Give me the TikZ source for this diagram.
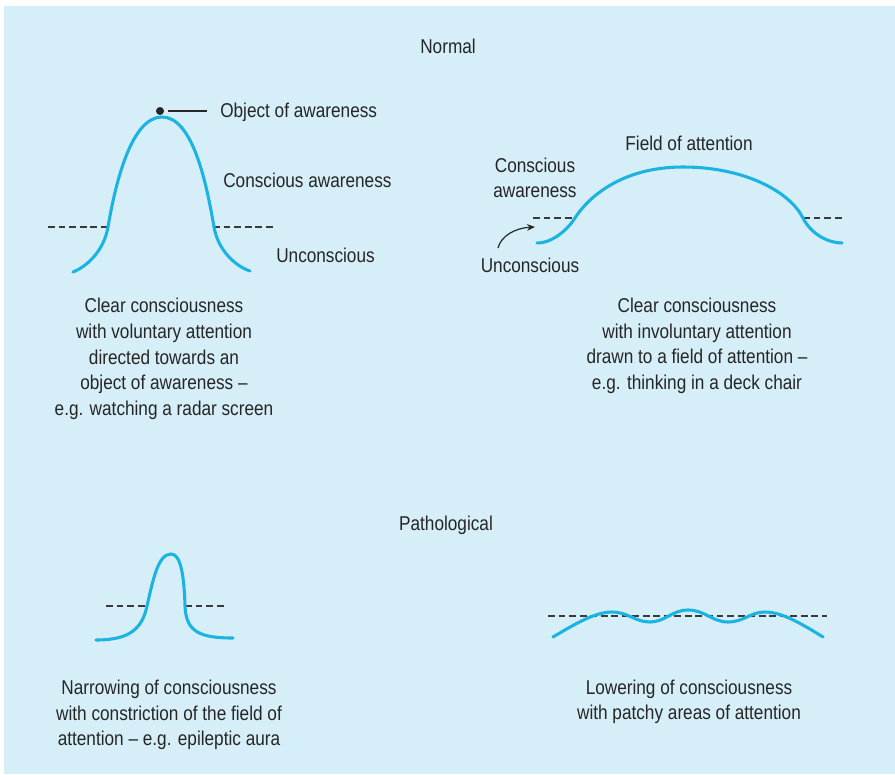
\documentclass[tikz,border=0pt]{standalone}
\usepackage{fontspec}
\setmainfont{Liberation Sans}[FakeStretch=0.86]
\usetikzlibrary{arrows.meta}
\definecolor{bgblue}{HTML}{D5EEF8}
\definecolor{curvecol}{HTML}{1BB4E2}
\definecolor{txtcol}{HTML}{262626}
\definecolor{dashcol}{HTML}{3A3A3A}
\tikzset{
  lbl/.style={inner sep=0pt, text=txtcol, font=\fontsize{15pt}{19.2pt}\selectfont},
  caption/.style={lbl, align=center},
  curve/.style={draw=curvecol, line width=2.3pt, line cap=round},
  level/.style={draw=dashcol, line width=0.9pt, dash pattern=on 5.2pt off 2.7pt},
  leader/.style={draw=txtcol, line width=0.9pt},
  pointer/.style={draw=txtcol, line width=0.9pt, -{Stealth[length=6pt,width=5pt]}}
}
\begin{document}
\begin{tikzpicture}[x=0.75pt,y=-0.75pt]
\useasboundingbox (0,0) rectangle (895,774);
\fill[bgblue] (4,6) rectangle (895,774);

% ---------- headings ----------
\node[lbl] (normal) at (448,46) {Normal};
\node[lbl] (patho) at (446,525) {Pathological};

% ---------- top left ----------
\draw[level] (48,227) -- (110,227);
\draw[level] (213,227) -- (276,227);
\draw[curve] (73,272) .. controls (88,266) and (104,250) .. (108,227)
  .. controls (116,180) and (132,117) .. (162,117)
  .. controls (192,117) and (206,180) .. (214,227)
  .. controls (218,250) and (235,266) .. (250,271);
\coordinate (objdot) at (160,111);
\fill[txtcol] (objdot) circle (3pt);
\node[lbl,anchor=west] (obj) at (220,112) {Object of awareness};
\coordinate (leadstart) at (168,111);
\coordinate (leadend) at (207,111);
\draw[leader] (leadstart) -- (leadend);
\node[lbl,anchor=west] (consc1) at (223,180) {Conscious awareness};
\node[lbl,anchor=west] (uncon1) at (276,255) {Unconscious};
\node[caption] (cap1) at (164,359) {Clear consciousness\\with voluntary attention\\directed towards an\\object of awareness –\\e.g. watching a radar screen};

% ---------- top right ----------
\draw[level] (533,218) -- (575,218);
\draw[level] (803,218) -- (843,218);
\draw[curve] (537,243) .. controls (553,243) and (568,229) .. (575,218)
  .. controls (587,199) and (620,167) .. (683,167)
  .. controls (745,167) and (790,192) .. (803,218)
  .. controls (811,234) and (828,243) .. (842,243);
\node[lbl] (field) at (689,143) {Field of attention};
\node[caption] (consc2) at (535,178) {Conscious\\awareness};
\node[lbl] (uncon2) at (530,265) {Unconscious};
\coordinate (arrstart) at (498,248);
\coordinate (arrend) at (535,227);
\draw[pointer] (arrstart) .. controls (501,236) and (515,228) .. (arrend);
\node[caption] (cap2) at (697,346) {Clear consciousness\\with involuntary attention\\drawn to a field of attention –\\e.g. thinking in a deck chair};

% ---------- bottom left ----------
\draw[level] (106,606) -- (147,606);
\draw[level] (185,606) -- (226,606);
\draw[curve] (96,640) .. controls (128,640) and (142,630) .. (147,606)
  .. controls (153,580) and (158,554) .. (171,554)
  .. controls (180,554) and (184,572) .. (185,606)
  .. controls (186,632) and (200,638) .. (233,638);
\node[caption] (cap3) at (169,715) {Narrowing of consciousness\\with constriction of the field of\\attention – e.g. epileptic aura};

% ---------- bottom right ----------
\draw[level] (548,616) -- (827,616);
\draw[curve] (553,637) .. controls (575,624) and (595,612) .. (612,612)
  .. controls (628,612) and (635,622) .. (650,622)
  .. controls (665,622) and (672,610) .. (688,610)
  .. controls (705,610) and (712,622) .. (728,622)
  .. controls (744,622) and (750,612) .. (765,612)
  .. controls (782,612) and (802,624) .. (823,637);
\node[caption] (cap4) at (689,702) {Lowering of consciousness\\with patchy areas of attention};
\end{tikzpicture}
\end{document}
